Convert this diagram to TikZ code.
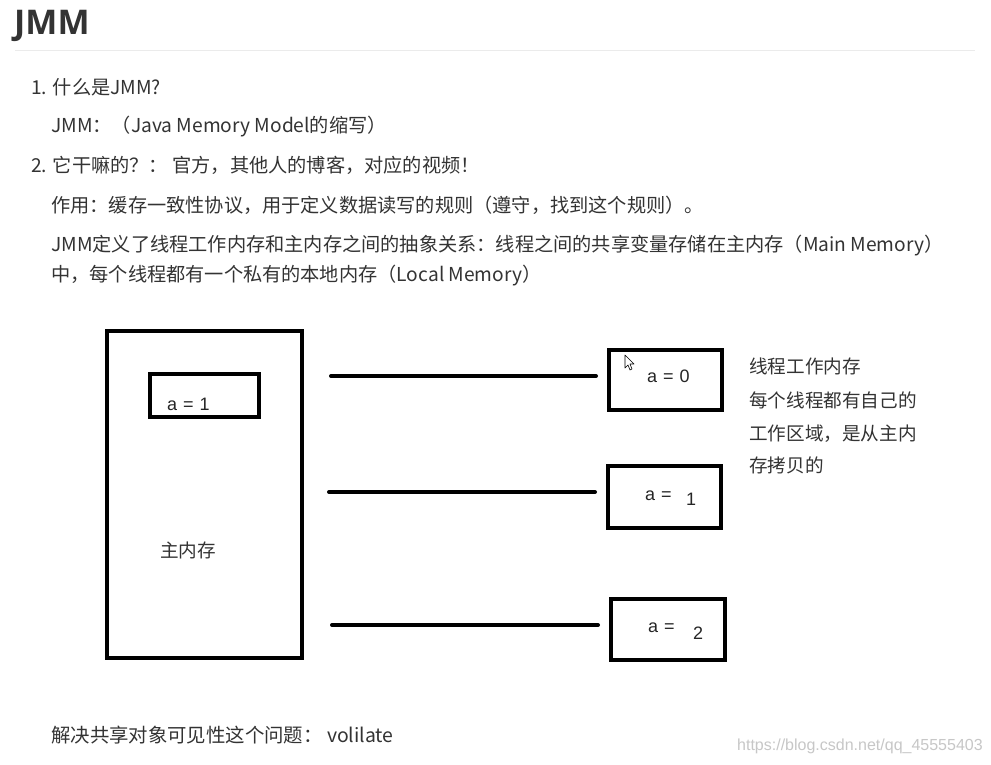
\documentclass[tikz,border=0pt]{standalone}
\usepackage{fontspec}
\setmainfont{Noto Sans CJK SC}
\newfontfamily\osans{Open Sans}
\newfontfamily\lsans{Liberation Sans}
\definecolor{txt}{HTML}{333333}
\newcommand{\eqgap}{\hspace{6pt}}
\begin{document}
\begin{tikzpicture}[x=1pt,y=-1pt,
  body/.style={anchor=base west,inner sep=0pt,text=txt,font=\fontsize{19.2}{22}\selectfont},
  side/.style={anchor=base west,inner sep=0pt,text=txt,font=\fontsize{18.6}{22}\selectfont},
  val/.style={anchor=base west,inner sep=0pt,text=black!85,font=\lsans\fontsize{18}{20}\selectfont},
  thickbox/.style={draw=black,line width=4pt},
  wire/.style={draw=black,line width=4pt,line cap=round}]
\useasboundingbox[fill=white] (0,0) rectangle (991,764);
% title
\node[anchor=base west,inner sep=0pt,text=txt,font=\osans\bfseries\fontsize{34}{38}\selectfont] (title) at (14,34) {JMM};
\draw[black!8,line width=1pt] (15,50) -- (975,50);
% text
\node[body] (l1) at (31,94) {1. 什么是JMM?};
\node[body] (l2) at (51,132) {JMM：（Java Memory Model的缩写）};
\node[body] (l3) at (31,172) {2. 它干嘛的？： 官方，其他人的博客，对应的视频！};
\node[body] (l4) at (51,212) {作用：缓存一致性协议，用于定义数据读写的规则（遵守，找到这个规则）。};
\node[body] (l5) at (51,251) {JMM定义了线程工作内存和主内存之间的抽象关系：线程之间的共享变量存储在主内存（Main Memory）};
\node[body] (l6) at (51,281) {中，每个线程都有一个私有的本地内存（Local Memory）};
% diagram
\draw[thickbox] (107,331) rectangle (302,658);
\draw[thickbox] (150,374) rectangle (259,417);
\node[val] (a1) at (167,410) {a\eqgap=\eqgap1};
\node[side] (mm) at (160,557) {主内存};
\draw[thickbox] (609,350) rectangle (722,410);
\node[val] (a0) at (647,382) {a\eqgap=\eqgap0};
\draw[thickbox] (608,466) rectangle (721,528);
\node[val] (b1) at (645,500) {a\eqgap=};
\node[val] (b1n) at (686,505) {1};
\draw[thickbox] (611,599) rectangle (725,660);
\node[val] (c2) at (648,632) {a\eqgap=};
\node[val] (c2n) at (693,639) {2};
\coordinate (w1s) at (331,376); \coordinate (w1e) at (596,376);
\coordinate (w2s) at (329,492); \coordinate (w2e) at (595,492);
\coordinate (w3s) at (332,625); \coordinate (w3e) at (598,625);
\draw[wire] (w1s) -- (w1e);
\draw[wire] (w2s) -- (w2e);
\draw[wire] (w3s) -- (w3e);
% cursor
\draw[black,line width=0.6pt,fill=white,line join=round] (625,355) -- (625,368) -- (628,365) -- (630,370) -- (632,369) -- (630,364) -- (634,364) -- cycle;
% side notes
\node[side] (s1) at (749,373) {线程工作内存};
\node[side] (s2) at (749,407) {每个线程都有自己的};
\node[side] (s3) at (749,440) {工作区域，是从主内};
\node[side] (s4) at (749,472) {存拷贝的};
% bottom
\node[body,font=\fontsize{19.4}{22}\selectfont] (bot) at (51,742) {解决共享对象可见性这个问题： volilate};
\node[anchor=base west,inner sep=0pt,text=black!22,font=\lsans\fontsize{16}{18}\selectfont] (wm) at (737,750) {https://blog.csdn.net/qq\_45555403};
\end{tikzpicture}
\end{document}
